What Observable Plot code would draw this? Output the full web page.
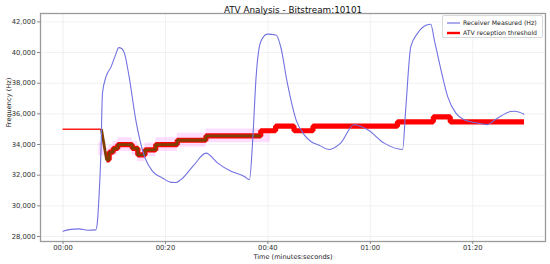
<!DOCTYPE html>
<html>
<head>
<meta charset="utf-8">
<script src="https://cdn.jsdelivr.net/npm/d3@7"></script>
<script src="https://cdn.jsdelivr.net/npm/@observablehq/plot@0.6"></script>
<style>
  html, body { margin: 0; padding: 0; background: #fff; }
  #wrap { position: relative; width: 550px; height: 264px; font-family: "DejaVu Sans", sans-serif; }
  #legend { position: absolute; left: 442px; top: 15px; width: 101px; height: 23px; box-sizing: border-box;
            border: 1px solid #d8d8d8; border-radius: 2px; background: rgba(255,255,255,0.85); font-size: 6.2px; color: #222; }
  #legend .row { position: absolute; left: 4px; height: 10px; display: flex; align-items: center; white-space: nowrap; }
  #legend svg { margin-right: 3px; }
</style>
</head>
<body>
<div id="wrap">
  <div id="chart"></div>
  <div id="legend">
    <div class="row" style="top:1.5px"><svg width="13" height="4"><line x1="0" y1="2" x2="13" y2="2" stroke="#7272e2" stroke-width="1.2"/></svg>Receiver Measured (Hz)</div>
    <div class="row" style="top:11.5px"><svg width="13" height="4"><line x1="0" y1="2" x2="13" y2="2" stroke="#ff0000" stroke-width="2.4"/></svg>ATV reception threshold</div>
  </div>
</div>
<script>
// Receiver measured frequency (seconds, Hz)
const measT = [0, 1.2, 3.1, 4.8, 6.4, 6.7, 7.0, 7.4, 7.7, 8.4, 9.4, 10.2, 10.9, 11.5, 12.0, 12.9, 14.2, 15.0, 15.9, 17.5, 19.4, 21.1, 22.0, 23.0, 25.6, 27.9, 30.2, 32.8, 35.4, 36.4, 37.0, 37.7, 38.6, 39.9, 41.6, 42.5, 43.8, 45.5, 47.1, 48.4, 50.0, 52.0, 54.2, 56.8, 59.5, 62.7, 66.3, 66.9, 67.9, 69.2, 71.0, 71.8, 72.5, 73.8, 75.1, 76.7, 78.3, 80.9, 82.8, 84.8, 87.4, 88.2, 90.0];
const measV = [28340, 28450, 28500, 28410, 28430, 28930, 30450, 33500, 37350, 38430, 39080, 39800, 40320, 40250, 39950, 38430, 35610, 34300, 33220, 32250, 31820, 31530, 31520, 31710, 32680, 33440, 32790, 32250, 31920, 31700, 34090, 38430, 40700, 41200, 41140, 40380, 38000, 35610, 34630, 34200, 33950, 33680, 34090, 35290, 34960, 34090, 33680, 36260, 40380, 41250, 41800, 41850, 40810, 38860, 37125, 36045, 35610, 35400, 35300, 35720, 36150, 36170, 35980];

// ATV reception threshold (step-after)
const initT = [0, 7.5, 8.5];
const initV = [35000, 35000, 33000];
const thrT = [8.5, 9.0, 9.8, 10.7, 13.5, 14.6, 16.0, 18.1, 22.3, 27.9, 38.6, 41.5, 45.1, 48.8, 65.3, 72.3, 75.6, 90.0];
const thrV = [33000, 33500, 33750, 34000, 33750, 33320, 33650, 34000, 34280, 34560, 34900, 35200, 34900, 35200, 35480, 35800, 35480, 35480];
// Early adaptation segment (darker overlay) ends here
const adaptEnd = 38.6;

// Pink band around the adapting threshold
const bandT = [7.0, 8.5, 9.0, 9.8, 10.7, 13.5, 14.6, 16.0, 18.1, 22.3, 27.9, 40.5];
const bandC = [33700, 33300, 33500, 33750, 34000, 33750, 33320, 33650, 34000, 34280, 34560, 34560];
const bandHalf = 450;

const xTicks = [0, 20, 40, 60, 80];
const yTicks = [28000, 30000, 32000, 34000, 36000, 38000, 40000, 42000];

function stepPts(ts, vs) {
  const out = [];
  for (let i = 0; i < ts.length; i++) {
    if (i > 0) out.push({t: ts[i], v: vs[i - 1]});
    out.push({t: ts[i], v: vs[i]});
  }
  return out;
}

const meas = measT.map((t, i) => ({t, v: measV[i]}));
const init = initT.map((t, i) => ({t, v: initV[i]}));
const thr = stepPts(thrT, thrV);
const olive = [init[1], ...thr.filter(d => d.t <= adaptEnd)];
while (olive.length > 1 && olive[olive.length - 1].t === adaptEnd && olive[olive.length - 1].v !== olive[olive.length - 2].v) olive.pop();
const band = bandT.map((t, i) => ({t, lo: bandC[i] - bandHalf, hi: bandC[i] + bandHalf}));

const fmtT = s => String(Math.floor(s / 60)).padStart(2, "0") + ":" + String(Math.round(s % 60)).padStart(2, "0");

const chart = Plot.plot({
  width: 550,
  height: 264,
  marginLeft: 40,
  marginRight: 5,
  marginTop: 13,
  marginBottom: 23,
  style: {fontFamily: "DejaVu Sans, sans-serif", fontSize: "6.8px", background: "#fff", color: "#333"},
  x: {domain: [-4.4, 94.2]},
  y: {domain: [27674, 42548]},
  marks: [
    Plot.gridX(xTicks, {stroke: "#e8e8e8", strokeOpacity: 1, strokeWidth: 0.6}),
    Plot.gridY(yTicks, {stroke: "#e8e8e8", strokeOpacity: 1, strokeWidth: 0.6}),
    Plot.areaY(band, {x: "t", y1: "lo", y2: "hi", curve: "step-after", fill: "#ff55ff", fillOpacity: 0.2}),
    Plot.line(init, {x: "t", y: "v", stroke: "#ff1a1a", strokeWidth: 1.4}),
    Plot.line(thr, {x: "t", y: "v", stroke: "#ff0000", strokeWidth: 5.2, strokeLinejoin: "miter", strokeLinecap: "butt"}),
    Plot.line(olive, {x: "t", y: "v", stroke: "#7f3f00", strokeWidth: 2.8, strokeLinejoin: "miter", strokeLinecap: "butt"}),
    Plot.line(meas, {x: "t", y: "v", stroke: "#7272e2", strokeWidth: 1.1, curve: "monotone-x"}),
    Plot.frame({stroke: "#9a9a9a", strokeWidth: 1.3}),
    Plot.axisX(xTicks, {tickFormat: fmtT, tickSize: 3, tickPadding: 1, stroke: "#888", fill: "#333", label: null}),
    Plot.axisY(yTicks, {tickFormat: d3.format(","), tickSize: 3, tickPadding: 2, stroke: "#888", fill: "#333", label: null}),
    Plot.text(["ATV Analysis - Bitstream:10101"], {frameAnchor: "top", dy: -7, fontSize: 8.8, fill: "#111"}),
    Plot.text(["Time (minutes:seconds)"], {frameAnchor: "bottom", dy: 17.2, fontSize: 6.6, fill: "#222"}),
    Plot.text(["Frequency (Hz)"], {frameAnchor: "left", dx: -32, rotate: -90, fontSize: 6.6, fill: "#222"})
  ]
});
document.getElementById("chart").appendChild(chart);
</script>
</body>
</html>
